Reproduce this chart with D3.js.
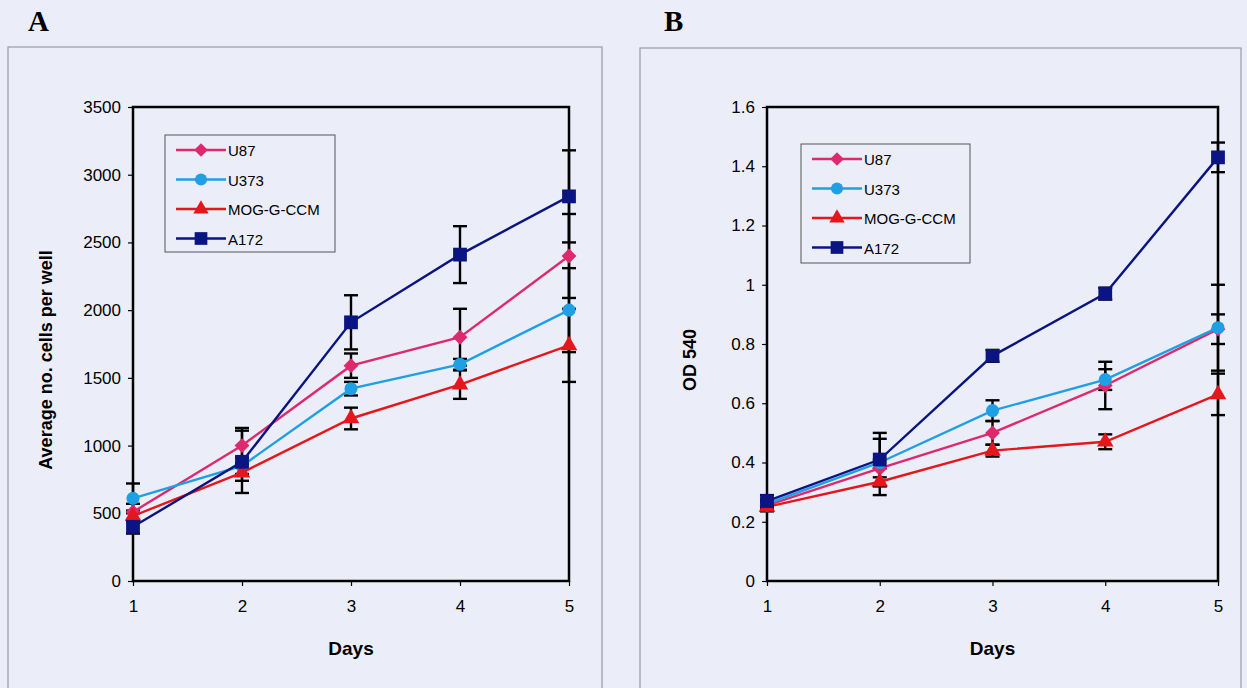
<!DOCTYPE html>
<html>
<head>
<meta charset="utf-8">
<script src="https://cdn.jsdelivr.net/npm/d3@7"></script>
<style>
  body { margin: 0; background: #ebeef8; }
  svg { display: block; }
  .tick text { font-family: "Liberation Sans", Arial, sans-serif; font-size: 17px; }
</style>
</head>
<body>
<div id="chart"></div>
<script>
// Data
var days = [1, 2, 3, 4, 5];
var seriesNames = ["U87", "U373", "MOG-G-CCM", "A172"];

// Panel A: average number of cells per well
var cellsU87 = [510, 1000, 1590, 1800, 2400];
var cellsU373 = [610, 850, 1420, 1600, 2000];
var cellsMOG = [480, 800, 1200, 1450, 1740];
var cellsA172 = [400, 880, 1910, 2410, 2840];
var cellsErrU87 = [60, 130, 90, 210, 310];
var cellsErrU373 = [110, 60, 50, 40, 310];
var cellsErrMOG = [40, 60, 80, 105, 270];
var cellsErrA172 = [50, 230, 200, 210, 340];

// Panel B: OD 540
var odU87 = [0.255, 0.38, 0.50, 0.66, 0.85];
var odU373 = [0.26, 0.40, 0.575, 0.68, 0.855];
var odMOG = [0.25, 0.335, 0.44, 0.47, 0.63];
var odA172 = [0.27, 0.41, 0.76, 0.97, 1.43];
var odErrU87 = [0.015, 0.03, 0.04, 0.08, 0.05];
var odErrU373 = [0.015, 0.08, 0.035, 0.035, 0.145];
var odErrMOG = [0.015, 0.045, 0.02, 0.025, 0.07];
var odErrA172 = [0.02, 0.09, 0.02, 0.02, 0.05];

var yTicksA = [0, 500, 1000, 1500, 2000, 2500, 3000, 3500];
var yTicksB = [0, 0.2, 0.4, 0.6, 0.8, 1, 1.2, 1.4, 1.6];

var colors = ["#dd2a6e", "#1f9fe4", "#e5161c", "#0a1482"];

// diamond drawn as a square turned 45 degrees
var symbolRhomb = {
  draw: function(context, size) {
    var r = Math.sqrt(size / 2);
    context.moveTo(0, -r);
    context.lineTo(r, 0);
    context.lineTo(0, r);
    context.lineTo(-r, 0);
    context.closePath();
  }
};
var symbols = [symbolRhomb, d3.symbolCircle, d3.symbolTriangle, d3.symbolSquare];
var symSizes = [110, 135, 120, 190];

var svg = d3.select("#chart")
  .append("svg")
  .attr("width", 1247)
  .attr("height", 688);

function drawPanel(opt) {
  // outer frame
  svg.append("rect")
    .attr("x", opt.frame[0]).attr("y", opt.frame[1])
    .attr("width", opt.frame[2]).attr("height", opt.frame[3])
    .attr("fill", "none").attr("stroke", "#9a9ca4").attr("stroke-width", 1.2);

  svg.append("text")
    .attr("x", opt.letterX).attr("y", 31)
    .style("font-family", "'Liberation Serif', 'Times New Roman', serif")
    .style("font-weight", "bold").style("font-size", "29px")
    .text(opt.letter);

  var x = d3.scaleLinear().domain([1, 5]).range([opt.left, opt.right]);
  var y = d3.scaleLinear().domain([0, opt.yMax]).range([581, 107]);

  var g = svg.append("g");

  g.append("g")
    .attr("transform", "translate(" + opt.left + ",0)")
    .call(d3.axisLeft(y).tickValues(opt.yTicks).tickSize(5).tickPadding(7).tickFormat(d3.format("")))
    .call(a => a.select(".domain").remove())
    .selectAll("line").attr("stroke", "#000").attr("stroke-width", 1.2);

  g.append("g")
    .attr("transform", "translate(0,581)")
    .call(d3.axisBottom(x).tickValues(days).tickSize(5).tickPadding(14).tickFormat(d3.format("d")))
    .call(a => a.select(".domain").remove())
    .selectAll("line").attr("stroke", "#000").attr("stroke-width", 1.2);

  // plot area border
  g.append("rect")
    .attr("x", opt.left).attr("y", 107)
    .attr("width", opt.right - opt.left).attr("height", 581 - 107)
    .attr("fill", "none").attr("stroke", "#000").attr("stroke-width", 2.5);

  var line = d3.line().x((d, i) => x(days[i])).y(d => y(d));

  opt.series.forEach(function(vals, s) {
    var errs = opt.errors[s];
    var eg = g.append("g").attr("stroke", "#000").attr("stroke-width", 2.4);
    vals.forEach(function(v, i) {
      var cx = x(days[i]);
      var top = y(v + errs[i]), bot = y(Math.max(0, v - errs[i]));
      eg.append("line").attr("x1", cx).attr("x2", cx).attr("y1", top).attr("y2", bot);
      eg.append("line").attr("x1", cx - 7).attr("x2", cx + 7).attr("y1", top).attr("y2", top);
      eg.append("line").attr("x1", cx - 7).attr("x2", cx + 7).attr("y1", bot).attr("y2", bot);
    });
  });

  opt.series.forEach(function(vals, s) {
    g.append("path")
      .datum(vals)
      .attr("d", line)
      .attr("fill", "none")
      .attr("stroke", colors[s])
      .attr("stroke-width", 2.4);

    g.selectAll(".m" + s)
      .data(vals)
      .enter()
      .append("path")
      .attr("transform", (d, i) => "translate(" + x(days[i]) + "," + y(d) + ")")
      .attr("d", d3.symbol().type(symbols[s]).size(symSizes[s]))
      .attr("fill", colors[s]);
  });

  // legend
  var lg = svg.append("g").attr("transform", "translate(" + opt.legend[0] + "," + opt.legend[1] + ")");
  lg.append("rect")
    .attr("width", opt.legend[2]).attr("height", opt.legend[3])
    .attr("fill", "none").attr("stroke", "#555").attr("stroke-width", 1);
  seriesNames.forEach(function(name, s) {
    var ly = 15 + s * 29.5;
    lg.append("line").attr("x1", 11).attr("x2", 61).attr("y1", ly).attr("y2", ly)
      .attr("stroke", colors[s]).attr("stroke-width", 2.4);
    lg.append("path")
      .attr("transform", "translate(36," + ly + ")")
      .attr("d", d3.symbol().type(symbols[s]).size(symSizes[s] * 0.85))
      .attr("fill", colors[s]);
    lg.append("text")
      .attr("x", 63).attr("y", ly + 6)
      .style("font-family", "'Liberation Sans', Arial, sans-serif")
      .style("font-size", "15px")
      .text(name);
  });

  // axis titles
  svg.append("text")
    .attr("transform", "translate(" + opt.yTitleX + ",360) rotate(-90)")
    .attr("text-anchor", "middle")
    .style("font-family", "'Liberation Sans', Arial, sans-serif")
    .style("font-weight", "bold").style("font-size", "18px")
    .text(opt.yTitle);

  svg.append("text")
    .attr("x", (opt.left + opt.right) / 2).attr("y", 655)
    .attr("text-anchor", "middle")
    .style("font-family", "'Liberation Sans', Arial, sans-serif")
    .style("font-weight", "bold").style("font-size", "19px")
    .text("Days");
}

drawPanel({
  letter: "A", letterX: 28,
  frame: [8, 47, 594, 660],
  left: 133, right: 569,
  yMax: 3500, yTicks: yTicksA,
  series: [cellsU87, cellsU373, cellsMOG, cellsA172],
  errors: [cellsErrU87, cellsErrU373, cellsErrMOG, cellsErrA172],
  legend: [165, 135, 170, 117],
  yTitleX: 52, yTitle: "Average no. cells per well"
});

drawPanel({
  letter: "B", letterX: 664,
  frame: [640, 48, 601, 660],
  left: 767, right: 1218,
  yMax: 1.6, yTicks: yTicksB,
  series: [odU87, odU373, odMOG, odA172],
  errors: [odErrU87, odErrU373, odErrMOG, odErrA172],
  legend: [801, 144, 169, 119],
  yTitleX: 696, yTitle: "OD 540"
});
</script>
</body>
</html>
